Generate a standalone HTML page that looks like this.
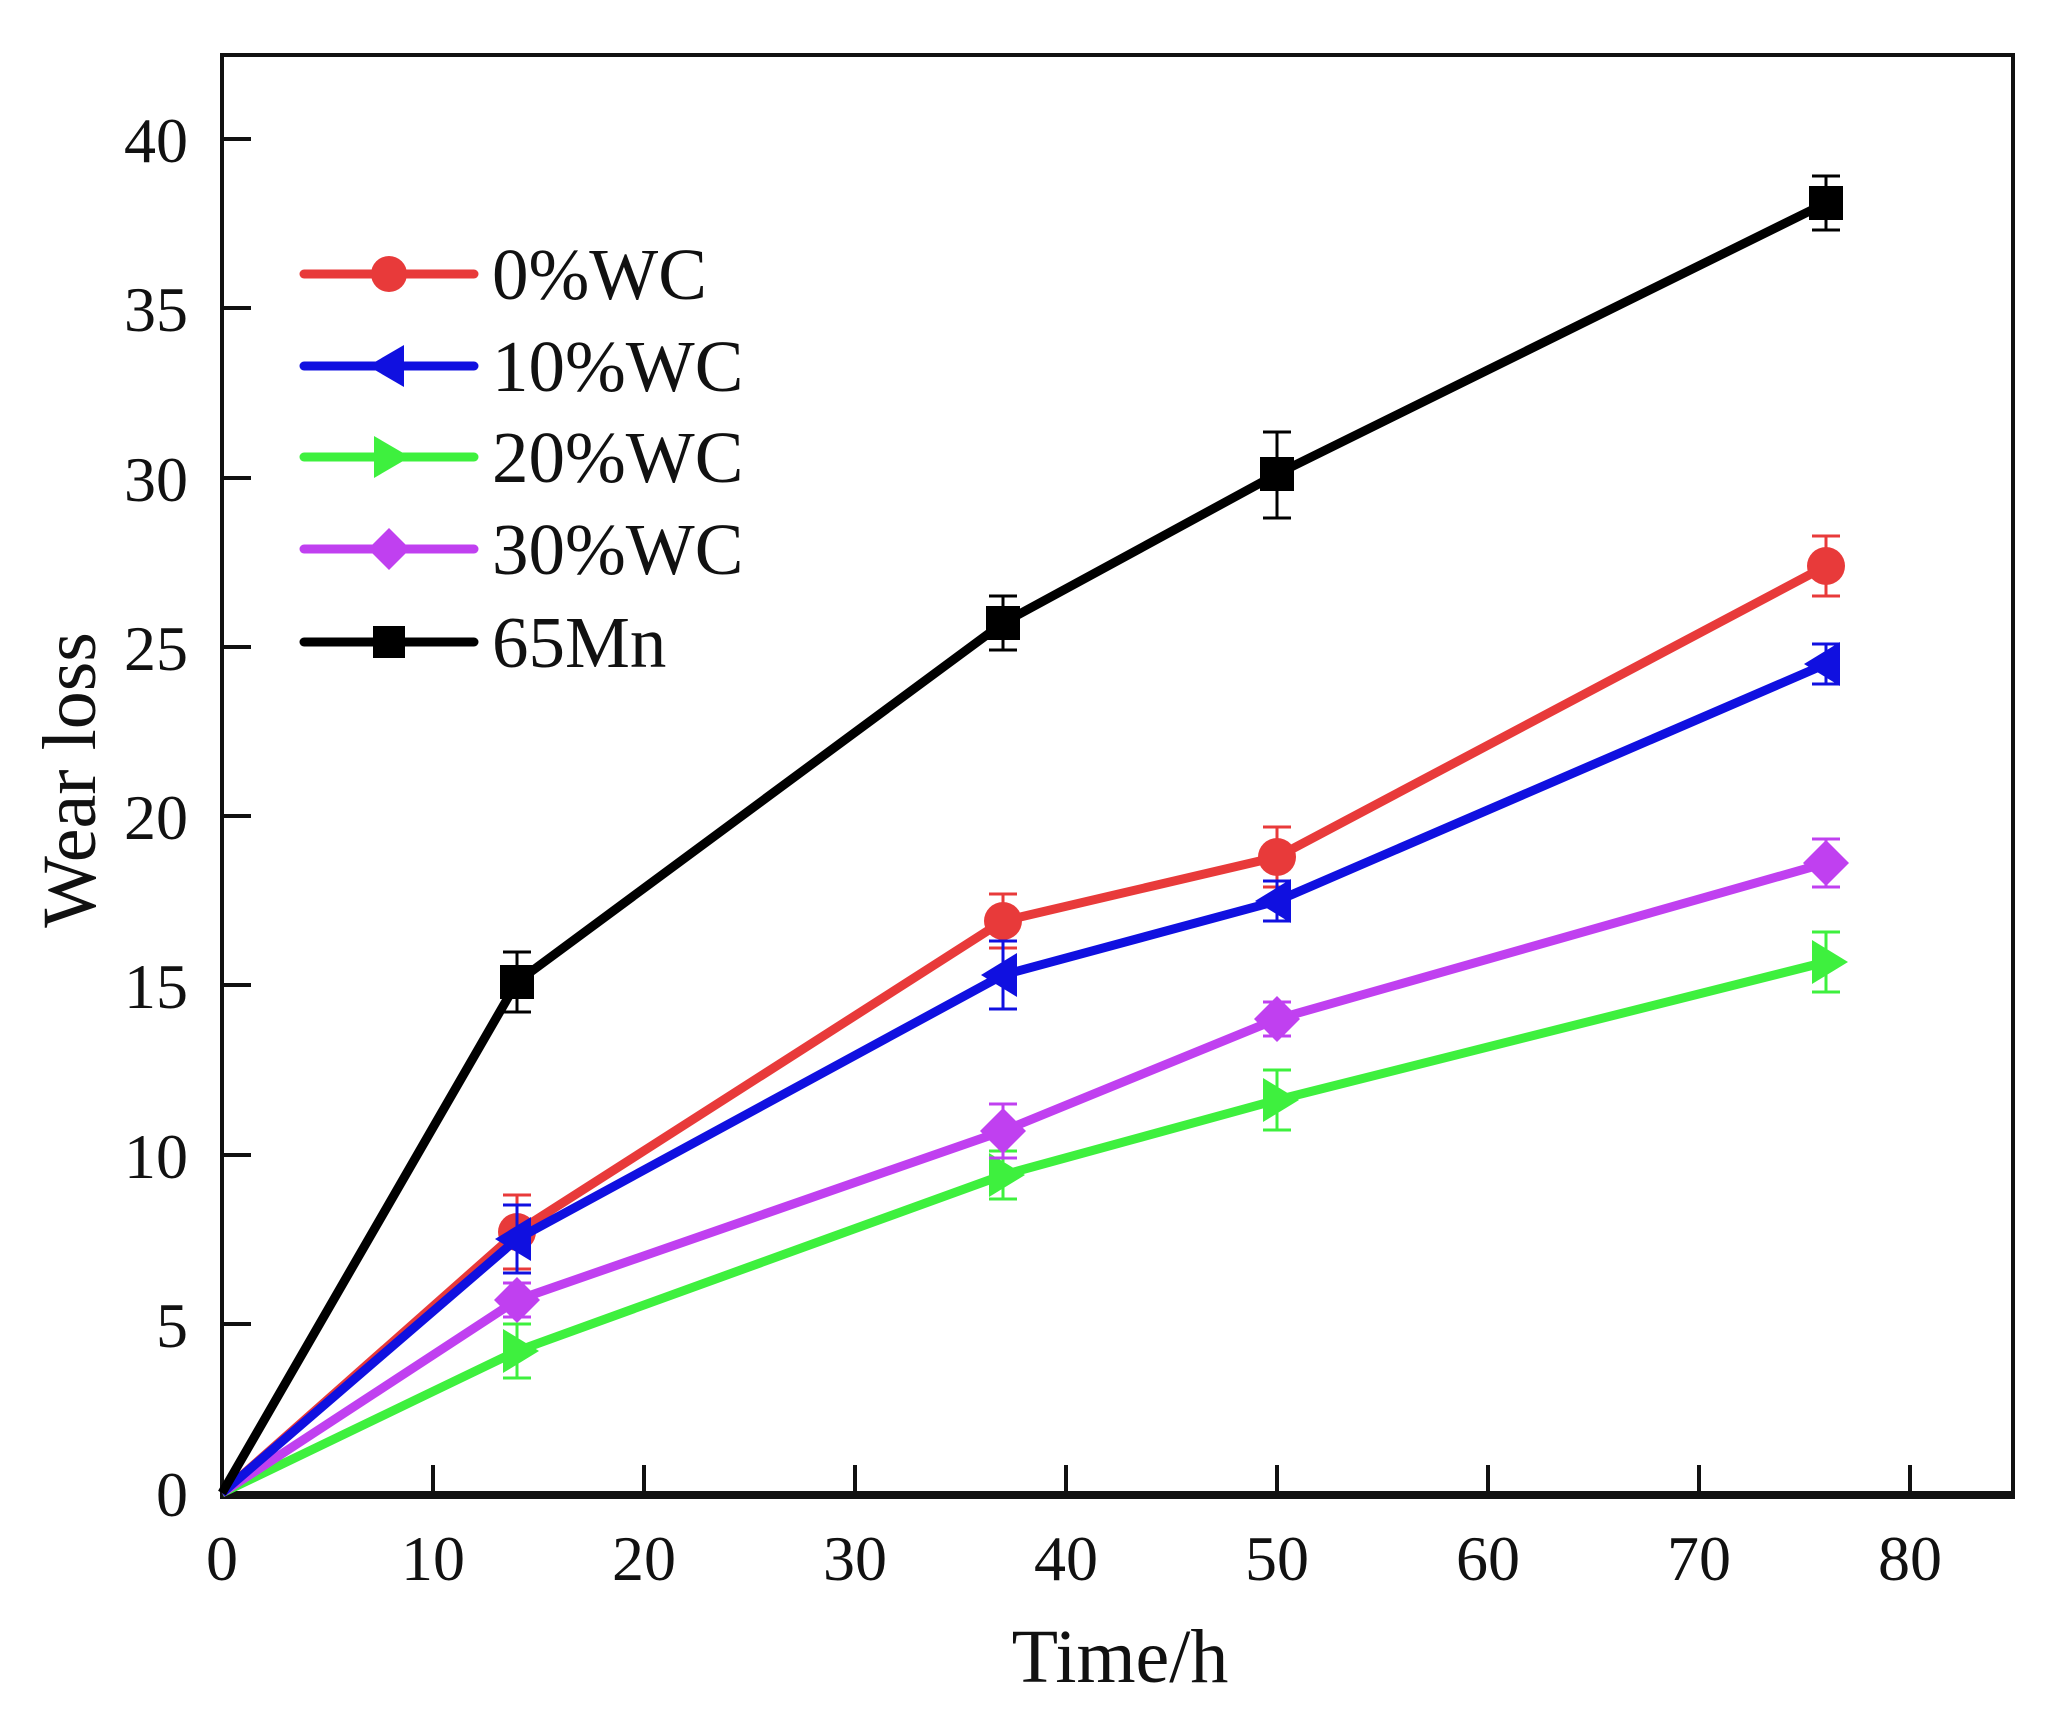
<!DOCTYPE html>
<html><head><meta charset="utf-8"><style>
html,body{margin:0;padding:0;background:#fff;}
svg{display:block;}
text{font-family:"Liberation Serif",serif;fill:#111;}
</style></head><body>
<svg width="2063" height="1721" viewBox="0 0 2063 1721" xmlns="http://www.w3.org/2000/svg">
<rect width="2063" height="1721" fill="#fff"/>
<rect x="222" y="55" width="1791" height="1440" fill="none" stroke="#111" stroke-width="4"/>
<line x1="220" y1="1495" x2="2015" y2="1495" stroke="#111" stroke-width="8"/>
<g stroke="#111" stroke-width="4">
<line x1="222" y1="1493" x2="251" y2="1493"/>
<line x1="222" y1="1324" x2="251" y2="1324"/>
<line x1="222" y1="1155" x2="251" y2="1155"/>
<line x1="222" y1="985" x2="251" y2="985"/>
<line x1="222" y1="816" x2="251" y2="816"/>
<line x1="222" y1="647" x2="251" y2="647"/>
<line x1="222" y1="478" x2="251" y2="478"/>
<line x1="222" y1="308" x2="251" y2="308"/>
<line x1="222" y1="139" x2="251" y2="139"/>
<line x1="433" y1="1493" x2="433" y2="1465"/>
<line x1="644" y1="1493" x2="644" y2="1465"/>
<line x1="855" y1="1493" x2="855" y2="1465"/>
<line x1="1066" y1="1493" x2="1066" y2="1465"/>
<line x1="1277" y1="1493" x2="1277" y2="1465"/>
<line x1="1488" y1="1493" x2="1488" y2="1465"/>
<line x1="1699" y1="1493" x2="1699" y2="1465"/>
<line x1="1910" y1="1493" x2="1910" y2="1465"/>
</g>
<g font-size="64" text-anchor="end">
<text x="188" y="1516">0</text>
<text x="188" y="1347">5</text>
<text x="188" y="1178">10</text>
<text x="188" y="1008">15</text>
<text x="188" y="839">20</text>
<text x="188" y="670">25</text>
<text x="188" y="501">30</text>
<text x="188" y="331">35</text>
<text x="188" y="162">40</text>
</g>
<g font-size="64" text-anchor="middle">
<text x="222" y="1580">0</text>
<text x="433" y="1580">10</text>
<text x="644" y="1580">20</text>
<text x="855" y="1580">30</text>
<text x="1066" y="1580">40</text>
<text x="1277" y="1580">50</text>
<text x="1488" y="1580">60</text>
<text x="1699" y="1580">70</text>
<text x="1910" y="1580">80</text>
</g>
<text x="1120" y="1682" font-size="76" text-anchor="middle">Time/h</text>
<text transform="translate(95,780) rotate(-90)" font-size="76" text-anchor="middle">Wear loss</text>

<g stroke="#3ef03e" fill="#3ef03e">
<polyline fill="none" stroke-width="9" points="222,1493 517,1351 1003,1175 1277,1100 1826,962"/>
<g stroke-width="3"><line x1="517" y1="1324" x2="517" y2="1378"/><line x1="503" y1="1324" x2="531" y2="1324"/><line x1="503" y1="1378" x2="531" y2="1378"/>
<line x1="1003" y1="1151" x2="1003" y2="1199"/><line x1="989" y1="1151" x2="1017" y2="1151"/><line x1="989" y1="1199" x2="1017" y2="1199"/>
<line x1="1277" y1="1070" x2="1277" y2="1130"/><line x1="1263" y1="1070" x2="1291" y2="1070"/><line x1="1263" y1="1130" x2="1291" y2="1130"/>
<line x1="1826" y1="932" x2="1826" y2="992"/><line x1="1812" y1="932" x2="1840" y2="932"/><line x1="1812" y1="992" x2="1840" y2="992"/></g>
<g stroke="none"><polygon points="503,1329 539,1351 503,1373"/><polygon points="989,1153 1025,1175 989,1197"/><polygon points="1263,1078 1299,1100 1263,1122"/><polygon points="1812,940 1848,962 1812,984"/></g>
</g>
<g stroke="#c040f0" fill="#c040f0">
<polyline fill="none" stroke-width="9" points="222,1493 517,1300 1003,1131 1277,1019 1826,863"/>
<g stroke-width="3"><line x1="517" y1="1283" x2="517" y2="1317"/><line x1="503" y1="1283" x2="531" y2="1283"/><line x1="503" y1="1317" x2="531" y2="1317"/>
<line x1="1003" y1="1104" x2="1003" y2="1158"/><line x1="989" y1="1104" x2="1017" y2="1104"/><line x1="989" y1="1158" x2="1017" y2="1158"/>
<line x1="1277" y1="1002" x2="1277" y2="1036"/><line x1="1263" y1="1002" x2="1291" y2="1002"/><line x1="1263" y1="1036" x2="1291" y2="1036"/>
<line x1="1826" y1="839" x2="1826" y2="887"/><line x1="1812" y1="839" x2="1840" y2="839"/><line x1="1812" y1="887" x2="1840" y2="887"/></g>
<g stroke="none"><polygon points="517,1277 540,1300 517,1323 494,1300"/><polygon points="1003,1108 1026,1131 1003,1154 980,1131"/><polygon points="1277,996 1300,1019 1277,1042 1254,1019"/><polygon points="1826,840 1849,863 1826,886 1803,863"/></g>
</g>
<g stroke="#e83a3a" fill="#e83a3a">
<polyline fill="none" stroke-width="9" points="222,1493 517,1232 1003,921 1277,857 1826,566"/>
<g stroke-width="3"><line x1="517" y1="1195" x2="517" y2="1269"/><line x1="503" y1="1195" x2="531" y2="1195"/><line x1="503" y1="1269" x2="531" y2="1269"/>
<line x1="1003" y1="894" x2="1003" y2="948"/><line x1="989" y1="894" x2="1017" y2="894"/><line x1="989" y1="948" x2="1017" y2="948"/>
<line x1="1277" y1="827" x2="1277" y2="887"/><line x1="1263" y1="827" x2="1291" y2="827"/><line x1="1263" y1="887" x2="1291" y2="887"/>
<line x1="1826" y1="536" x2="1826" y2="596"/><line x1="1812" y1="536" x2="1840" y2="536"/><line x1="1812" y1="596" x2="1840" y2="596"/></g>
<g stroke="none"><circle cx="517" cy="1232" r="19"/><circle cx="1003" cy="921" r="19"/><circle cx="1277" cy="857" r="19"/><circle cx="1826" cy="566" r="19"/></g>
</g>
<g stroke="#1010e0" fill="#1010e0">
<polyline fill="none" stroke-width="9" points="222,1493 517,1239 1003,975 1277,901 1826,664"/>
<g stroke-width="3"><line x1="517" y1="1205" x2="517" y2="1273"/><line x1="503" y1="1205" x2="531" y2="1205"/><line x1="503" y1="1273" x2="531" y2="1273"/>
<line x1="1003" y1="941" x2="1003" y2="1009"/><line x1="989" y1="941" x2="1017" y2="941"/><line x1="989" y1="1009" x2="1017" y2="1009"/>
<line x1="1277" y1="881" x2="1277" y2="921"/><line x1="1263" y1="881" x2="1291" y2="881"/><line x1="1263" y1="921" x2="1291" y2="921"/>
<line x1="1826" y1="644" x2="1826" y2="684"/><line x1="1812" y1="644" x2="1840" y2="644"/><line x1="1812" y1="684" x2="1840" y2="684"/></g>
<g stroke="none"><polygon points="495,1239 531,1217 531,1261"/><polygon points="981,975 1017,953 1017,997"/><polygon points="1255,901 1291,879 1291,923"/><polygon points="1804,664 1840,642 1840,686"/></g>
</g>
<g stroke="#000" fill="#000">
<polyline fill="none" stroke-width="9" points="222,1493 517,982 1003,623 1277,474 1826,203"/>
<g stroke-width="3"><line x1="517" y1="952" x2="517" y2="1012"/><line x1="503" y1="952" x2="531" y2="952"/><line x1="503" y1="1012" x2="531" y2="1012"/>
<line x1="1003" y1="596" x2="1003" y2="650"/><line x1="989" y1="596" x2="1017" y2="596"/><line x1="989" y1="650" x2="1017" y2="650"/>
<line x1="1277" y1="432" x2="1277" y2="518"/><line x1="1263" y1="432" x2="1291" y2="432"/><line x1="1263" y1="518" x2="1291" y2="518"/>
<line x1="1826" y1="176" x2="1826" y2="230"/><line x1="1812" y1="176" x2="1840" y2="176"/><line x1="1812" y1="230" x2="1840" y2="230"/></g>
<g stroke="none"><rect x="500" y="965" width="34" height="34"/><rect x="986" y="606" width="34" height="34"/><rect x="1260" y="457" width="34" height="34"/><rect x="1809" y="186" width="34" height="34"/></g>
</g>

<g stroke-width="9" stroke-linecap="round">
<line x1="304" y1="274" x2="474" y2="274" stroke="#e83a3a"/>
<line x1="304" y1="366" x2="474" y2="366" stroke="#1010e0"/>
<line x1="304" y1="457" x2="474" y2="457" stroke="#3ef03e"/>
<line x1="304" y1="549" x2="474" y2="549" stroke="#c040f0"/>
<line x1="304" y1="642" x2="474" y2="642" stroke="#000"/>
</g>
<circle cx="389" cy="274" r="18" fill="#e83a3a"/>
<polygon points="368,366 404,345 404,387" fill="#1010e0"/>
<polygon points="374,436 410,457 374,478" fill="#3ef03e"/>
<polygon points="389,528 410,549 389,570 368,549" fill="#c040f0"/>
<rect x="373" y="626" width="32" height="32" fill="#000"/>
<g font-size="73">
<text x="492" y="299">0%WC</text>
<text x="492" y="391">10%WC</text>
<text x="492" y="482">20%WC</text>
<text x="492" y="574">30%WC</text>
<text x="492" y="667">65Mn</text>
</g>
</svg>
</body></html>
